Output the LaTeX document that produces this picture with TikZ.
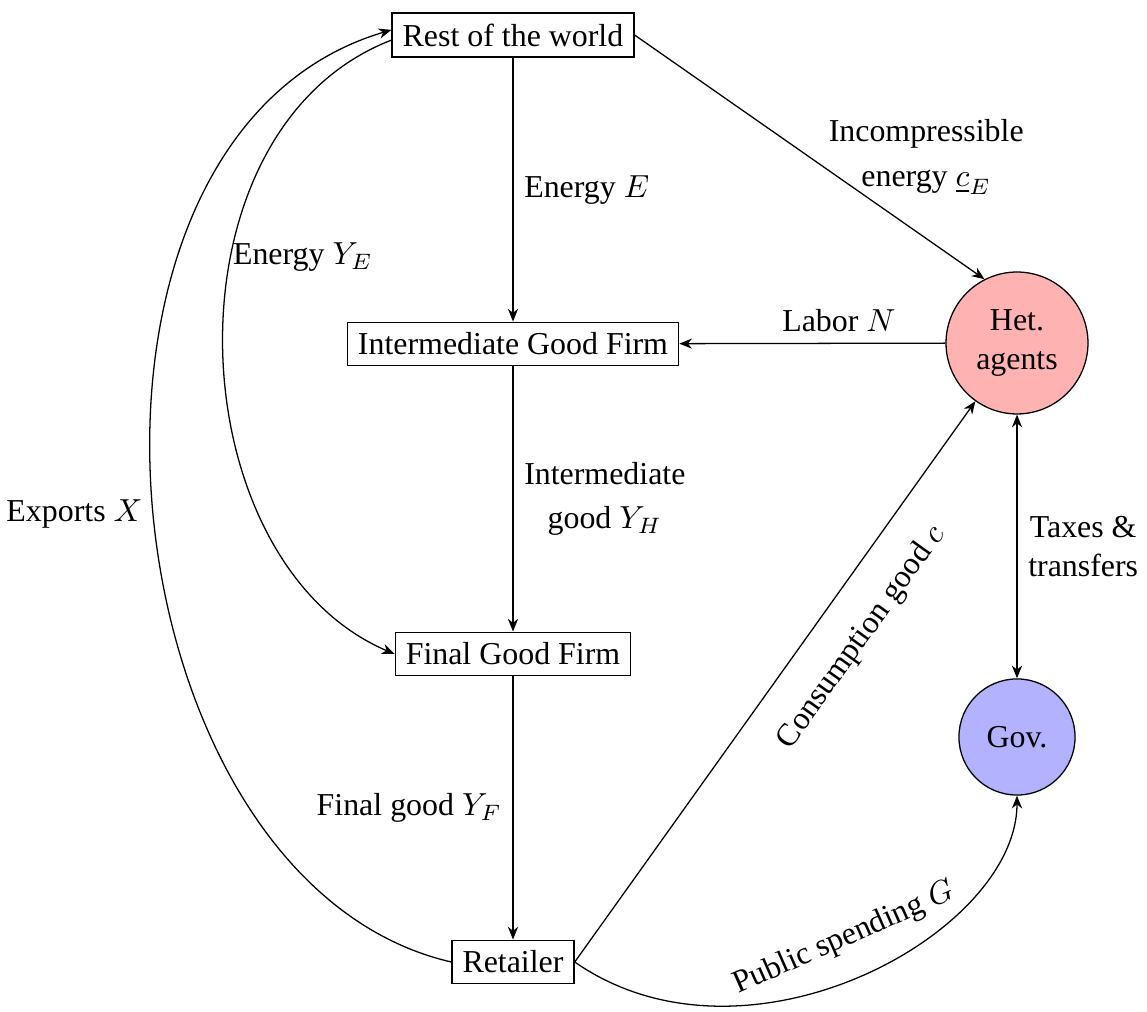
\documentclass[tikz,border=0pt]{standalone}
\usepackage{fontspec}
\setmainfont{Liberation Serif}
\usetikzlibrary{arrows.meta}
\begin{document}
\begin{tikzpicture}[x=0.3135pt, y=-0.3135pt,
  box/.style={draw, rectangle, inner sep=3.33pt},
  agent/.style={draw, circle, align=center, inner sep=3.33pt},
  arr/.style={-{Stealth[length=4pt,width=3.2pt,inset=1.3pt]}},
  arrtwo/.style={{Stealth[length=4pt,width=3.2pt,inset=1.3pt]}-{Stealth[length=4pt,width=3.2pt,inset=1.3pt]}}]
\useasboundingbox (0,0) rectangle (1147,1012);

\node[box] (Rest) at (513,35) {Rest of the world};
\node[box] (Int) at (513,344) {Intermediate Good Firm};
\node[box] (Fin) at (513,654) {Final Good Firm};
\node[box] (Ret) at (513,962) {Retailer};
\node[agent, fill=red!30, minimum size=44.5pt] (Het) at (1017,343) {Het.\\agents};
\node[agent, fill=blue!30, minimum size=36.4pt] (Gov) at (1017,737) {Gov.};

\draw[arr] (Rest) -- node[right]{Energy $E$} (Int);
\draw[arr] (Int) -- node[right, align=center]{Intermediate\\[2pt] good $Y_H$} (Fin);
\draw[arr] (Fin) -- node[left]{Final good $Y_F$} (Ret);
\draw[arr] (Het) -- node[pos=0.4, above]{Labor $N$} (Int);
\draw[arr] (Rest.east) -- node[midway, right, xshift=2.5pt, align=center]{Incompressible\\[2pt] energy $\underline{c}_E$} (Het.117);
\draw[arr] ([yshift=-1.6pt]Rest.west) .. controls +(-233,90) and +(-219,-93) .. node[pos=0.385, right, inner sep=0.5pt]{Energy $Y_E$} (Fin.west);
\draw[arr] (Ret.west) .. controls +(-351,-81) and +(-364,108) .. node[pos=0.494, left=0pt]{Exports $X$} ([yshift=1.6pt]Rest.west);
\draw[arr] (Ret.east) -- node[pos=0.625, sloped, below=6pt]{Consumption good $c$} (Het);
\draw[arr] (Ret.east) .. controls +(172,120) and +(0,138) .. node[pos=0.5, sloped, above=4.5pt]{Public spending $G$} (Gov.south);
\draw[arrtwo] (Het) -- node[right, align=center]{Taxes \&\\transfers} (Gov);
\end{tikzpicture}
\end{document}
